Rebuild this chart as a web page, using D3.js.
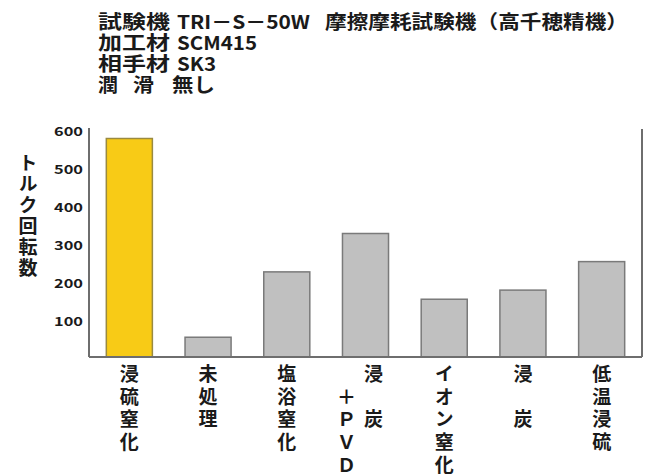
<!DOCTYPE html>
<html>
<head>
<meta charset="utf-8">
<script src="https://cdn.jsdelivr.net/npm/d3@7"></script>
<style>
  body { margin: 0; background: #fff; }
  text { font-family: "Noto Sans CJK JP", "Noto Sans", sans-serif; fill: #1a1a1a; }
</style>
</head>
<body>
<script>
// data
const categories = ['浸硫窒化', '未処理', '塩浴窒化', '浸炭+PVD', 'イオン窒化', '浸炭', '低温浸硫'];
// vertical label columns, right to left ('　' keeps an empty row)
const labelColumns = [
    ['浸硫窒化'],
    ['未処理'],
    ['塩浴窒化'],
    ['浸　炭', '　＋ＰＶＤ'],
    ['イオン窒化'],
    ['浸　炭'],
    ['低温浸硫']
];
const values = [575, 52, 224, 325, 152, 176, 251];
const highlight = '浸硫窒化';
const yTicks = [100, 200, 300, 400, 500, 600];
const yTitle = 'トルク回転数';

// header rows: [text, x, width]
const header = [
    [['試験機', 98, 72], ['TRI－S－50W', 177, 133], ['摩擦摩耗試験機（高千穂精機）', 325, 303]],
    [['加工材', 98, 72], ['SCM415', 177, 80]],
    [['相手材', 98, 72], ['SK3', 177, 39]],
    [['潤', 98, 20], ['滑', 133, 21], ['無し', 172, 43]]
];

const width = 646;
const height = 474;
const margin = { top: 129, right: 4, bottom: 117, left: 89 };

const svg = d3.select('body')
    .append('svg')
    .attr('width', width)
    .attr('height', height);

// header text
header.forEach((row, i) => {
    row.forEach(([t, x, w]) => {
        svg.append('text')
            .attr('x', x)
            .attr('y', 20 + i * 21.2)
            .attr('dominant-baseline', 'central')
            .attr('font-size', 19)
            .attr('font-weight', 600)
            .attr('textLength', w)
            .attr('lengthAdjust', 'spacingAndGlyphs')
            .text(t);
    });
});

const x = d3.scaleBand()
    .domain(categories)
    .range([margin.left, width - margin.right])
    .paddingInner(0.415)
    .paddingOuter(0.22);

const y = d3.scaleLinear()
    .domain([0, 600])
    .range([height - margin.bottom, margin.top]);

// bars
svg.selectAll('rect.bar')
    .data(values)
    .join('rect')
    .attr('class', 'bar')
    .attr('x', (d, i) => x(categories[i]))
    .attr('y', d => y(d))
    .attr('width', x.bandwidth())
    .attr('height', d => y(0) - y(d))
    .attr('fill', (d, i) => categories[i] === highlight ? '#f8cb16' : '#c0c0c0')
    .attr('stroke', (d, i) => categories[i] === highlight ? '#9a8a40' : '#7a7a7a')
    .attr('stroke-width', 1.5);

// left axis
const yAxis = svg.append('g')
    .attr('transform', `translate(${margin.left},0)`)
    .call(d3.axisLeft(y).tickValues(yTicks).tickSize(0).tickPadding(6));

yAxis.select('.domain')
    .attr('stroke', '#6e6e6e')
    .attr('stroke-width', 2)
    .attr('d', `M0,${margin.top - 1}V${y(0)}`);

yAxis.selectAll('text')
    .attr('font-family', '"Liberation Sans", Arial, sans-serif')
    .attr('font-size', 12)
    .attr('font-weight', 'bold')
    .attr('fill', '#222')
    .attr('dy', '0.5em')
    .attr('textLength', 29)
    .attr('lengthAdjust', 'spacingAndGlyphs');

// right border and baseline
svg.append('line')
    .attr('x1', width - margin.right)
    .attr('x2', width - margin.right)
    .attr('y1', margin.top)
    .attr('y2', y(0))
    .attr('stroke', '#6e6e6e')
    .attr('stroke-width', 2);

svg.append('line')
    .attr('x1', margin.left)
    .attr('x2', width - margin.right)
    .attr('y1', y(0))
    .attr('y2', y(0))
    .attr('stroke', '#6e6e6e')
    .attr('stroke-width', 2);

// y title, vertical
svg.append('text')
    .attr('x', 28)
    .attr('y', 153)
    .attr('writing-mode', 'vertical-rl')
    .style('letter-spacing', '2px')
    .attr('font-size', 19)
    .attr('font-weight', 'bold')
    .text(yTitle);

// category labels, vertical
labelColumns.forEach((cols, ci) => {
    const cx = x(categories[ci]) + x.bandwidth() / 2;
    cols.forEach((col, k) => {
        svg.append('text')
            .attr('x', cx + (cols.length - 1) * 8 - k * 27)
            .attr('y', 364)
            .attr('writing-mode', 'vertical-rl')
            .style('letter-spacing', '3.8px')
            .attr('font-size', 19)
            .attr('font-weight', 'bold')
            .text(col);
    });
});
</script>
</body>
</html>
